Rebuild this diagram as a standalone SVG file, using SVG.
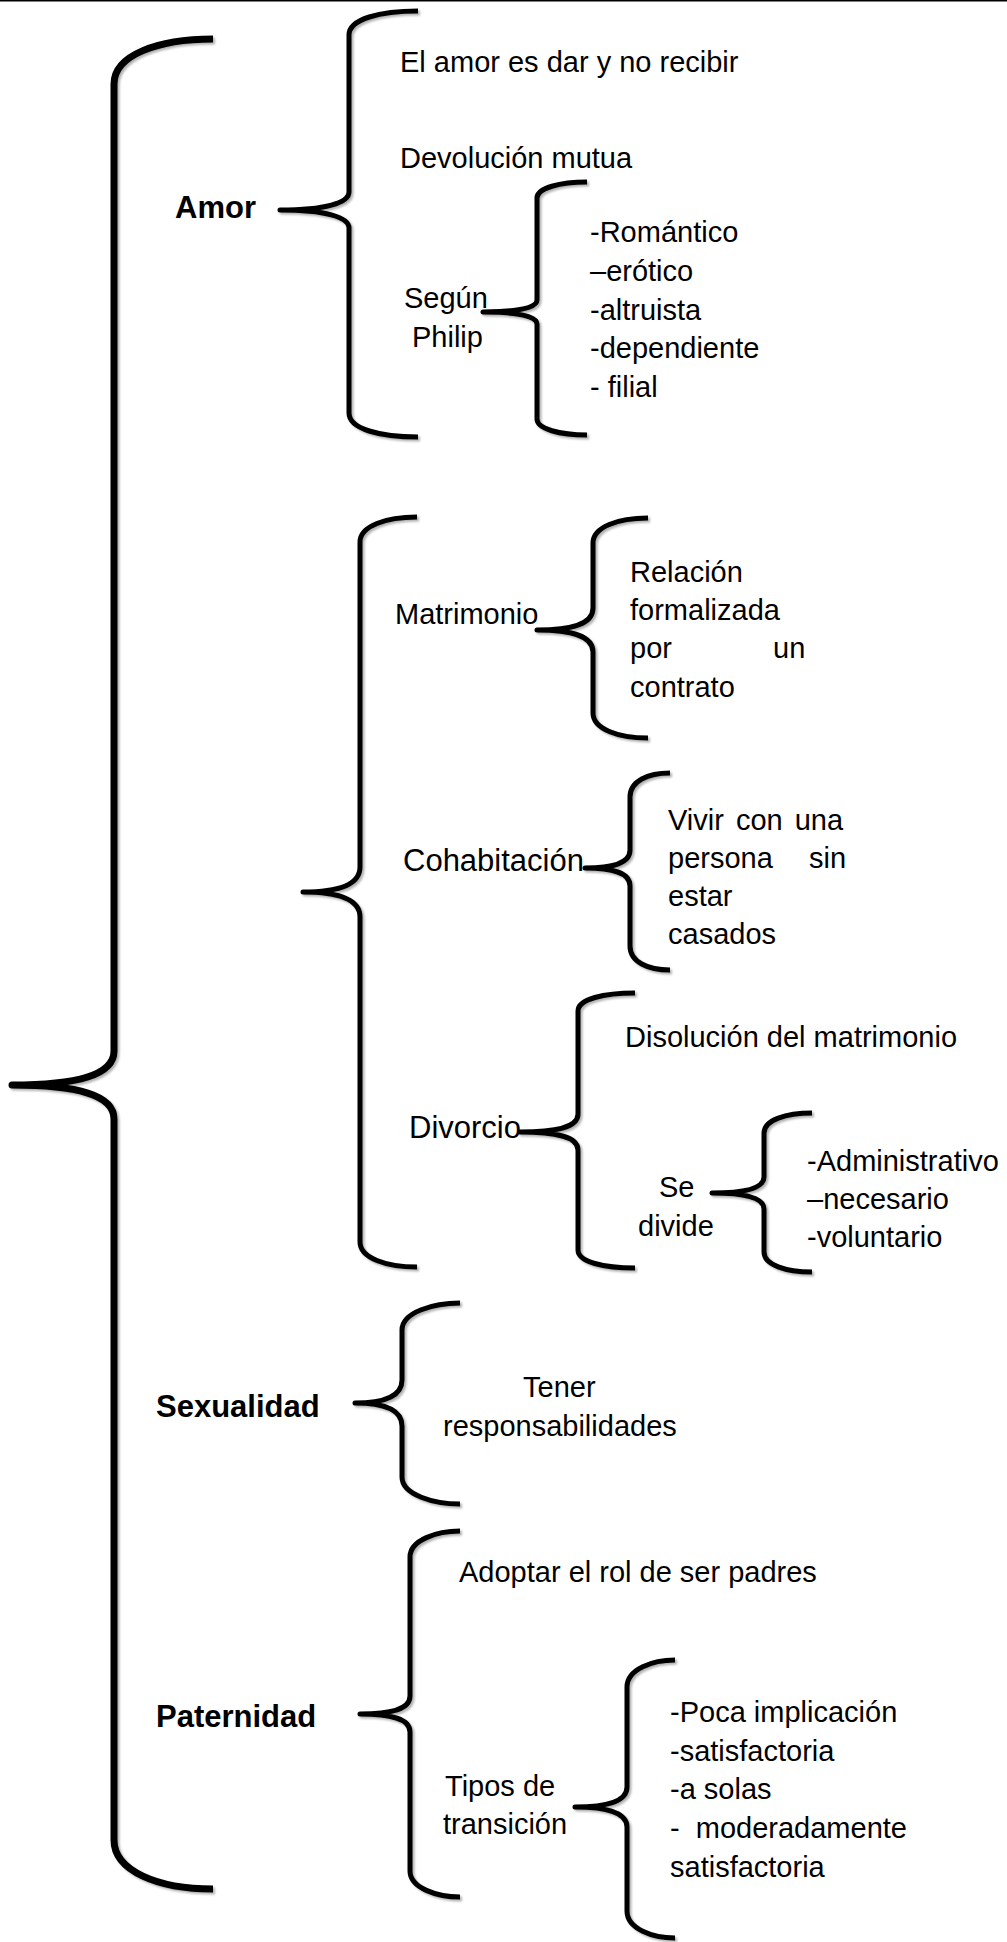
<svg xmlns="http://www.w3.org/2000/svg" width="1007" height="1942" viewBox="0 0 1007 1942">
<defs>
<filter id="sh" x="-20%" y="-5%" width="140%" height="110%">
<feDropShadow dx="2" dy="2" stdDeviation="1.2" flood-color="#000" flood-opacity="0.3"/>
</filter>
<style>
.br{fill:none;stroke:#000;stroke-width:5;stroke-linecap:butt;stroke-linejoin:round;filter:url(#sh)}
.big{stroke-width:7}
.t{font-family:"Liberation Sans",Arial,sans-serif;font-size:29px;fill:#000}
.l{font-size:31px}
.b{font-family:"Liberation Sans",Arial,sans-serif;font-weight:bold;font-size:31px;fill:#000}
</style>
</defs>
<rect x="0" y="0" width="1007" height="1942" fill="#fff"/>
<rect x="0" y="0" width="1007" height="1.5" fill="#000"/>
<g id="connectors">
<path class="br big" d="M213,39 C158,39 114,55 114,84 L114,1051 C114,1075 78,1085 12,1085 C78,1085 114,1095 114,1119 L114,1840 C114,1871 158,1889 213,1889"/>
<path class="br" d="M418,11 C380,11 349,19 349,35 L349,192 C349,203 325,210 280,210 C325,210 349,217 349,228 L349,413 C349,429 380,437 418,437"/>
<path class="br" d="M587,182 C560,182 537,188 537,198 L537,300 C537,308 518,312 483,312 C518,312 537,316 537,324 L537,419 C537,429 560,435 587,435"/>
<path class="br" d="M417,517 C386,517 360,526 360,542 L360,867 C360,884 340,892 303,892 C340,892 360,900 360,917 L360,1242 C360,1258 386,1267 417,1267"/>
<path class="br" d="M648,518 C618,518 593,527 593,543 L593,608 C593,624 573,630 537,630 C573,630 593,636 593,652 L593,713 C593,729 618,738 648,738"/>
<path class="br" d="M670,773 C648,773 630,781 630,797 L630,850 C630,863 614,868 585,868 C614,868 630,873 630,886 L630,946 C630,962 648,970 670,970"/>
<path class="br" d="M635,993 C604,993 578,999 578,1011 L578,1114 C578,1127 558,1132 520,1132 C558,1132 578,1137 578,1150 L578,1250 C578,1262 604,1268 635,1268"/>
<path class="br" d="M812,1113 C786,1113 764,1120 764,1133 L764,1177 C764,1188 746,1193 712,1193 C746,1193 764,1198 764,1209 L764,1252 C764,1265 786,1272 812,1272"/>
<path class="br" d="M460,1303 C434,1303 402,1312 402,1330 L402,1380 C402,1396 386,1403 355,1403 C386,1403 402,1410 402,1426 L402,1477 C402,1495 434,1504 460,1504"/>
<path class="br" d="M460,1531 C437,1531 410,1540 410,1557 L410,1696 C410,1709 392,1714 360,1714 C392,1714 410,1719 410,1732 L410,1871 C410,1888 437,1897 460,1897"/>
<path class="br" d="M675,1660 C653,1660 627,1669 627,1687 L627,1787 C627,1801 609,1807 575,1807 C609,1807 627,1813 627,1827 L627,1911 C627,1929 653,1938 675,1938"/>
</g>
<g id="amor"><text class="b" x="175" y="218" font-size="30">Amor</text></g>
<g id="amor-dar"><text class="t" x="400" y="72">El amor es dar y no recibir</text></g>
<g id="amor-devolucion"><text class="t" x="400" y="168">Devolución mutua</text></g>
<g id="segun-philip"><text class="t" x="404" y="308">Según</text><text class="t" x="412" y="347">Philip</text></g>
<g id="philip-tipos">
<text class="t" x="590" y="242">-Romántico</text>
<text class="t" x="590" y="281">–erótico</text>
<text class="t" x="590" y="320">-altruista</text>
<text class="t" x="590" y="358">-dependiente</text>
<text class="t" x="590" y="397">- filial</text>
</g>
<g id="matrimonio"><text class="t" x="395" y="624">Matrimonio</text></g>
<g id="matrimonio-def">
<text class="t" x="630" y="582">Relación</text>
<text class="t" x="630" y="620">formalizada</text>
<text class="t" x="630" y="658">por</text><text class="t" x="773" y="658">un</text>
<text class="t" x="630" y="697">contrato</text>
</g>
<g id="cohabitacion"><text class="t l" x="403" y="871">Cohabitación</text></g>
<g id="cohabitacion-def">
<text class="t" x="668" y="830" word-spacing="4">Vivir con una</text>
<text class="t" x="668" y="868">persona</text><text class="t" x="809" y="868">sin</text>
<text class="t" x="668" y="906">estar</text>
<text class="t" x="668" y="944">casados</text>
</g>
<g id="divorcio"><text class="t l" x="409" y="1138">Divorcio</text></g>
<g id="divorcio-def"><text class="t" x="625" y="1047">Disolución del matrimonio</text></g>
<g id="se-divide"><text class="t" x="659" y="1197">Se</text><text class="t" x="638" y="1236">divide</text></g>
<g id="divorcio-tipos">
<text class="t" x="807" y="1171">-Administrativo</text>
<text class="t" x="807" y="1209">–necesario</text>
<text class="t" x="807" y="1247">-voluntario</text>
</g>
<g id="sexualidad"><text class="b" x="156" y="1417" font-size="32">Sexualidad</text></g>
<g id="sexualidad-def"><text class="t" x="523" y="1397">Tener</text><text class="t" x="443" y="1436">responsabilidades</text></g>
<g id="paternidad"><text class="b" x="156" y="1727">Paternidad</text></g>
<g id="paternidad-rol"><text class="t" x="459" y="1582">Adoptar el rol de ser padres</text></g>
<g id="tipos-transicion"><text class="t" x="445" y="1796">Tipos de</text><text class="t" x="443" y="1834">transición</text></g>
<g id="transicion-lista">
<text class="t" x="670" y="1722">-Poca implicación</text>
<text class="t" x="670" y="1761">-satisfactoria</text>
<text class="t" x="670" y="1799">-a solas</text>
<text class="t" x="670" y="1838" xml:space="preserve">-  moderadamente</text>
<text class="t" x="670" y="1877">satisfactoria</text>
</g>
</svg>
